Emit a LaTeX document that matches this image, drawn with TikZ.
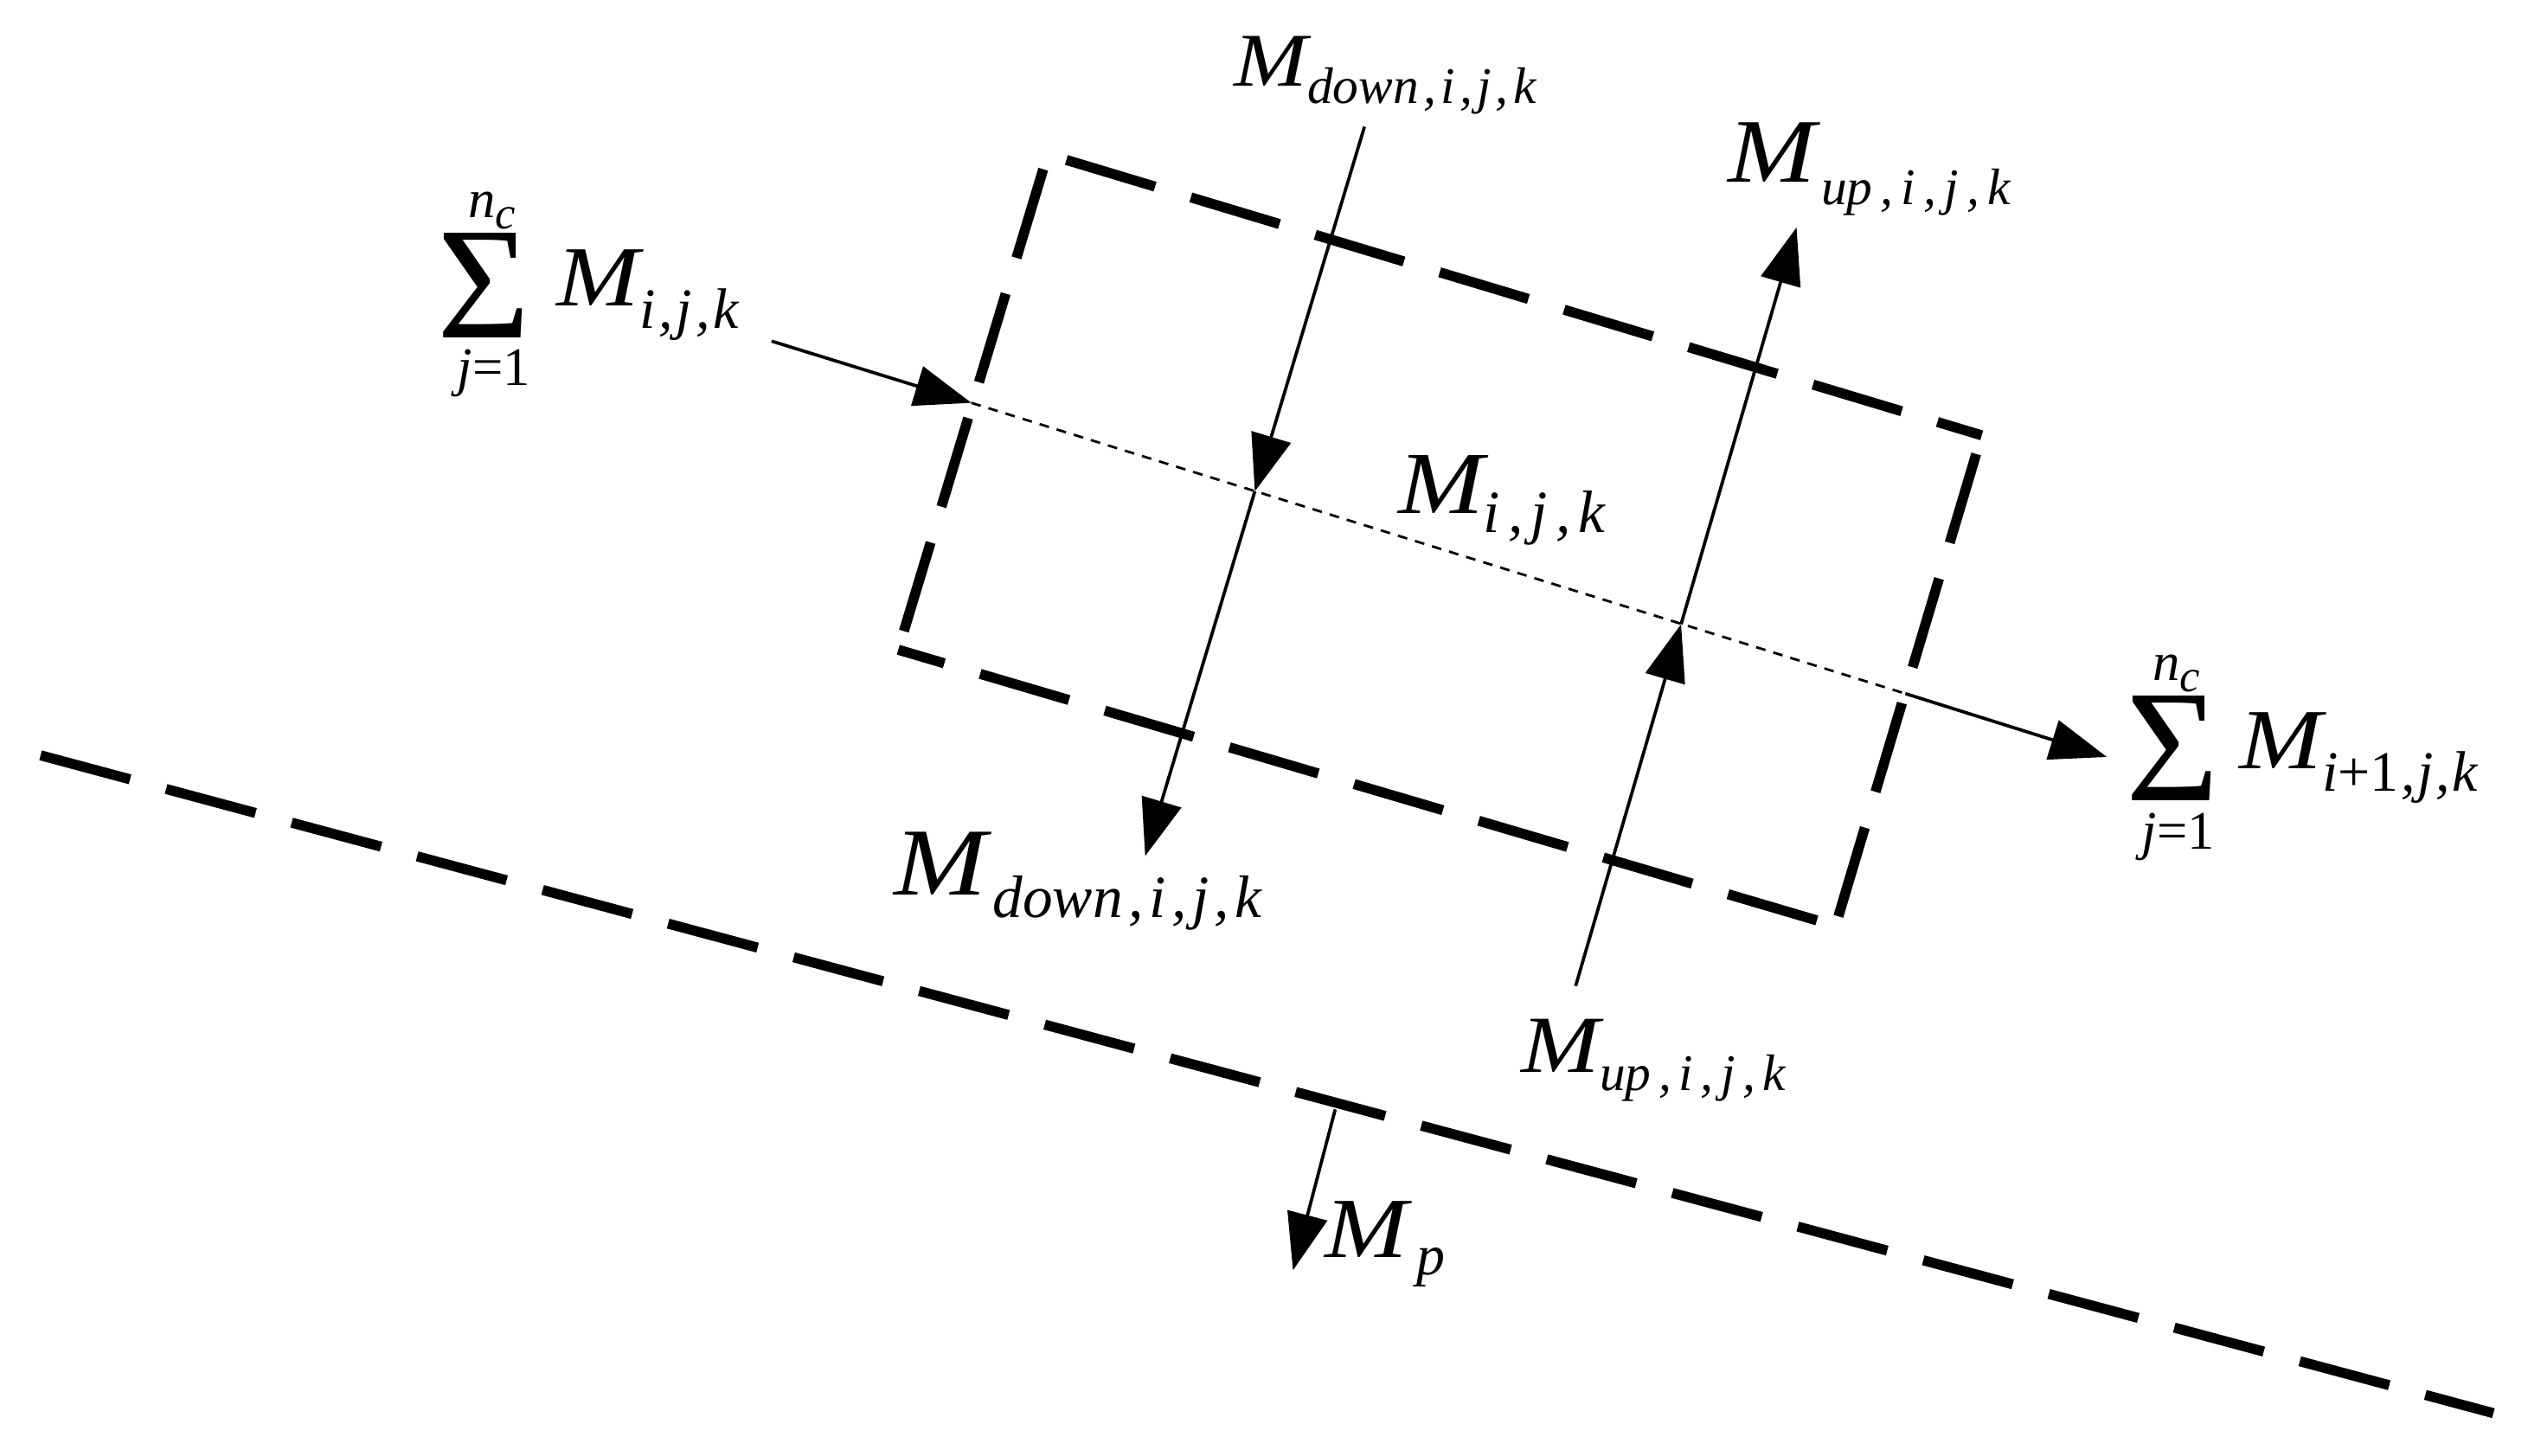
\documentclass[tikz,border=0pt]{standalone}
\usepackage{graphicx}
\usepackage{fontspec}
\setmainfont{Liberation Serif}
\usetikzlibrary{arrows.meta}
\newcommand\fs[1]{\fontsize{#1}{#1}\selectfont}
\newcommand\MM[1]{\scalebox{1.16}[1]{\fs{#1}M}}
\newcommand\lowsub[3]{\raisebox{-#1}{\fs{#2}#3}}
\newcommand\cm[1]{\kern#1,\kern#1}
\tikzset{
  heavydash/.style={line width=0.62mm, dash pattern=on 5.7mm off 2.3mm, dash phase=6.8mm},
  flowarrow/.style={line width=0.2mm, -{Triangle[length=3.5mm,width=2.5mm]}},
  fineline/.style={line width=0.15mm, dash pattern=on 0.6mm off 0.5mm},
  lbl/.style={inner sep=0pt, anchor=base west, font=\itshape},
  sym/.style={inner sep=0pt, anchor=base},
}
\begin{document}
\begin{tikzpicture}[x=0.1mm,y=-0.1mm]
\path[use as bounding box] (0,0) rectangle (1568,896);

% box corners
\coordinate (TL) at (645,95);
\coordinate (TR) at (1220,268);
\coordinate (BR) at (1130,570);
\coordinate (BL) at (553,400);
\draw[heavydash] (TL) -- (TR);
\draw[heavydash] (TR) -- (BR);
\draw[heavydash] (BR) -- (BL);
\draw[heavydash] (BL) -- (TL);

% ground line
\coordinate (G1) at (25,465);
\coordinate (G2) at (1535,870);
\draw[heavydash, dash phase=0mm] (G1) -- (G2);

% labels
\node[lbl] (mdownT) at (759,53) {\MM{13.3}\lowsub{3.1pt}{9}{down\cm{0.8pt}i\cm{0.8pt}j\cm{0.8pt}k}};
\node[lbl] (mupT) at (1063,112) {\MM{15.9}\kern1pt\lowsub{4pt}{9}{up\cm{1.4pt}i\cm{1.4pt}j\cm{1.4pt}k}};
\node[lbl] (mc) at (860,316) {\MM{15.5}\lowsub{3.3pt}{10.5}{i\cm{1.4pt}j\cm{1.4pt}k}};
\node[lbl] (mdownB) at (550,551) {\MM{16.8}\kern1pt\lowsub{4pt}{10.5}{down\cm{1pt}i\cm{1pt}j\cm{1pt}k}};
\node[lbl] (mupB) at (936,660) {\MM{14.2}\lowsub{3.3pt}{9}{up\cm{1.3pt}i\cm{1.3pt}j\cm{1.3pt}k}};
\node[lbl] (mp) at (815,774) {\MM{15}\kern1.5pt\lowsub{3.1pt}{10}{p}};

% left sum
\node[sym] (sigL) at (298,208) {\fs{28}Σ};
\node[sym, font=\itshape] (ncL) at (303,134) {\fs{9.5}n\lowsub{2pt}{8}{c}};
\node[sym] (jL) at (304,237) {\fs{9.5}\textit{j}=1};
\node[lbl] (mL) at (342,188) {\MM{15}\lowsub{4pt}{10}{i\cm{0.6pt}j\cm{0.6pt}k}};

% right sum
\node[sym] (sigR) at (1337.5,493) {\fs{28}Σ};
\node[sym, font=\itshape] (ncR) at (1340,419) {\fs{9.5}n\lowsub{2pt}{8}{c}};
\node[sym] (jR) at (1341,523) {\fs{9.5}\textit{j}=1};
\node[lbl] (mR) at (1378,473) {\MM{15}\lowsub{4pt}{10}{i\textup{+1}\cm{0.4pt}j\cm{0.4pt}k}};

% flow coordinates
\coordinate (inS) at (475,210);
\coordinate (inE) at (598,248);
\coordinate (outS) at (1173,427);
\coordinate (outE) at (1297,466);
\coordinate (dS) at (840,78);
\coordinate (dM) at (772.5,302.5);
\coordinate (dE) at (705,527);
\coordinate (uS) at (970,607);
\coordinate (uM) at (1034.9,384.3);
\coordinate (uE) at (1106,140);
\coordinate (pS) at (822,683);
\coordinate (pE) at (796,782);

\draw[flowarrow] (inS) -- (inE);
\draw[fineline] (inE) -- (outS);
\draw[flowarrow] (outS) -- (outE);
\draw[flowarrow] (dS) -- (dM);
\draw[flowarrow] (dM) -- (dE);
\draw[flowarrow] (uS) -- (uM);
\draw[flowarrow] (uM) -- (uE);
\draw[flowarrow] (pS) -- (pE);
\end{tikzpicture}
\end{document}
